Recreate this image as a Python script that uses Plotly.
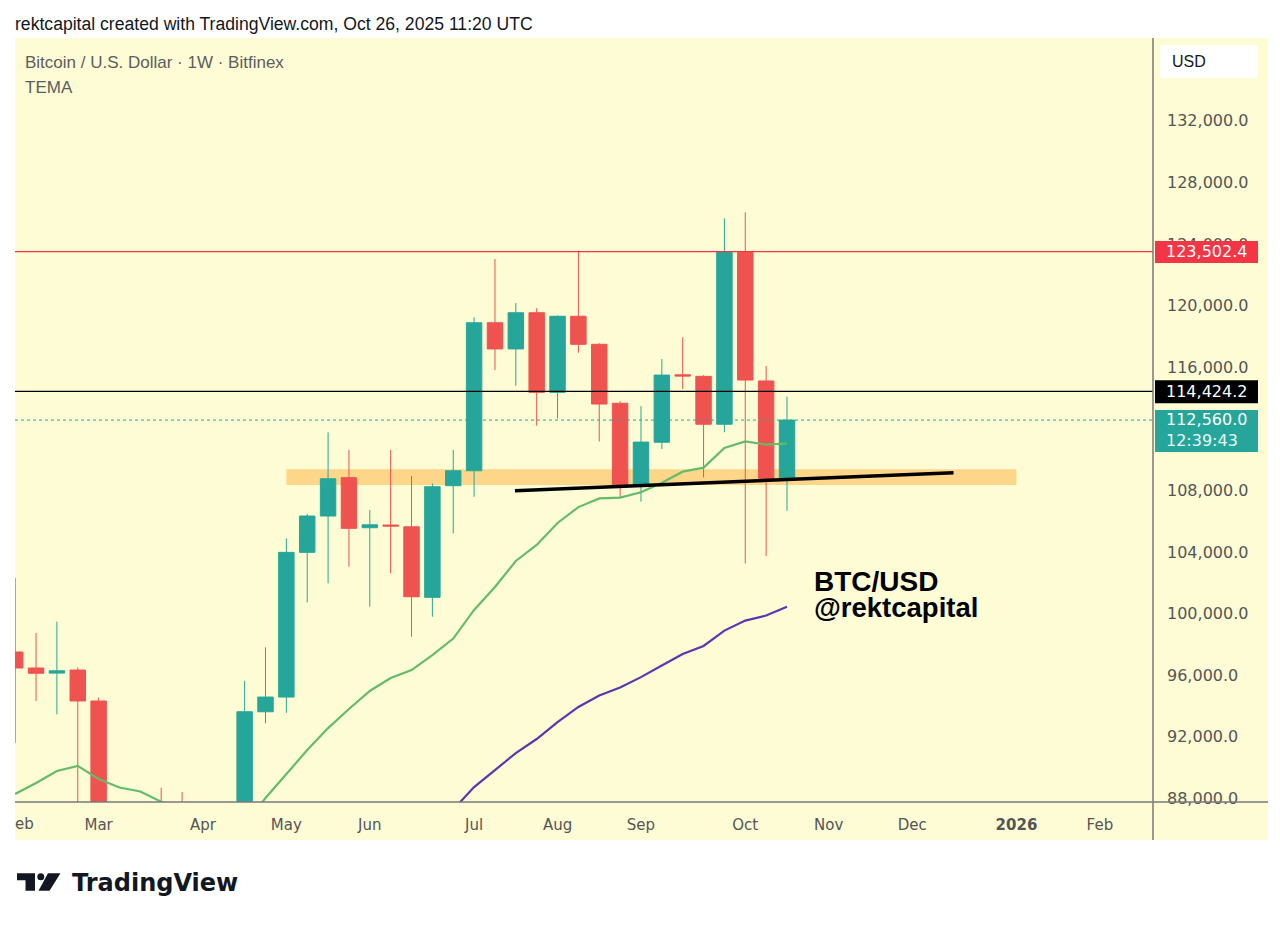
import plotly.graph_objects as go
import pandas as pd

# ---------------- data ----------------
week_start = pd.date_range("2025-02-03", periods=38, freq="7D")

opens = [97500, 96460, 96130, 96330, 94320, 80700, 82600, 86100, 82400, 78400,
         83800, 85100, 93620, 94575, 103970, 106330, 108820, 105570, 105745, 105630,
         101050, 108300, 109270, 118880, 117180, 119530, 114360, 119300, 117480, 113650,
         108300, 111120, 115500, 115400, 112290, 123450, 115100, 108770]
highs = [102300, 98730, 99470, 96500, 94530, 85300, 87450, 88690, 88400, 86100,
         86400, 95630, 97800, 104880, 106460, 111760, 110620, 106720, 110620, 108930,
         108450, 110620, 119230, 123020, 120160, 119820, 119360, 123560, 117550, 113780,
         113460, 116520, 117940, 115480, 125660, 126050, 116070, 114080]
lows = [91600, 94320, 93450, 78200, 80000, 76600, 82000, 81600, 77200, 74500,
        83100, 85000, 92870, 93550, 100720, 101960, 103040, 100440, 102600, 98490,
        99790, 105200, 107580, 115810, 114790, 112190, 112680, 116930, 111160, 107480,
        107260, 110680, 114580, 108840, 111770, 103260, 103730, 106670]
closes = [96460, 96120, 96280, 94320, 80700, 82600, 86100, 82400, 78400, 83800,
          85100, 93620, 94575, 103970, 106330, 108750, 105530, 105760, 105680, 101090,
          108230, 109270, 118880, 117180, 119530, 114360, 119300, 117480, 113600, 108230,
          111130, 115480, 115420, 112290, 123450, 115160, 108770, 112560]

tema_green = [88280, 88990, 89770, 90110, 89250, 88700, 88440, 87780, 87100, 86450,
              86100, 86290, 88020, 89570, 91130, 92560, 93800, 94970, 95810, 96330,
              97300, 98370, 100230, 101720, 103410, 104450, 105880, 106910, 107470, 107520,
              107870, 108490, 109210, 109470, 110750, 111170, 110970, 111040]
tema_purple = [None] * 19 + [85600, 86400, 87270, 88730, 89830, 90940, 91850, 92950,
                             93930, 94670, 95190, 95870, 96620, 97370, 97890, 98890,
                             99540, 99870, 100440]

resistance_level = 123502.4
level_mid = 114424.2
last_price = 112560.0
countdown = "12:39:43"

zone_dates = ["2025-05-05", "2026-01-05"]
zone_prices = [108340, 109360]
trend_dates = ["2025-07-20 17:00", "2025-12-14 21:00"]
trend_prices = [107970, 109140]

month_ticks = ["2025-03-03", "2025-04-07", "2025-05-05", "2025-06-02", "2025-07-07",
               "2025-08-04", "2025-09-01", "2025-10-06", "2025-11-03", "2025-12-01",
               "2026-01-05", "2026-02-02"]
month_labels = ["Mar", "Apr", "May", "Jun", "Jul", "Aug", "Sep", "Oct", "Nov", "Dec",
                "<b>2026</b>", "Feb"]
price_ticks = list(range(88000, 132001, 4000))

# ---------------- style ----------------
W, H = 1280, 926
L, R, T, B = 15, 127, 38, 124
PW, PH = W - L - R, H - T - B
BOTTOM = H - B
BG = "#FDFCD5"
TEAL = "#26A69A"
RED = "#EF5350"
GREEN = "#66BB6A"
PURPLE = "#5E35B1"
AXIS = "#7a7a7a"
TICKC = "#555555"

Y_RANGE = [87760, 137370]
UPP = (Y_RANGE[1] - Y_RANGE[0]) / PH  # price units per pixel

# last-price label box extent (the tick hidden beneath it is not drawn)
box_lo, box_hi = last_price - 32 * UPP, last_price + 10 * UPP
shown_ticks = [v for v in price_ticks if not (box_lo + 6 * UPP < v < box_hi - 6 * UPP)]

anchor = pd.Timestamp("2025-10-20")
PPD = 2.98  # pixels per day
x0 = anchor - pd.Timedelta(days=(787 - L) / PPD)
x1 = anchor + pd.Timedelta(days=(L + PW - 787) / PPD)


def fx(p):
    return (p - L) / PW


def fy(p):
    return (BOTTOM - p) / PH


def rrect(xa, ya, xb, yb, r):
    return (f"M {fx(xa + r)},{fy(ya)} L {fx(xb - r)},{fy(ya)} Q {fx(xb)},{fy(ya)} {fx(xb)},{fy(ya + r)} "
            f"L {fx(xb)},{fy(yb - r)} Q {fx(xb)},{fy(yb)} {fx(xb - r)},{fy(yb)} "
            f"L {fx(xa + r)},{fy(yb)} Q {fx(xa)},{fy(yb)} {fx(xa)},{fy(yb - r)} "
            f"L {fx(xa)},{fy(ya + r)} Q {fx(xa)},{fy(ya)} {fx(xa + r)},{fy(ya)} Z")


fig = go.Figure()

fig.add_trace(go.Scatter(x=week_start, y=tema_green, mode="lines",
                         line=dict(color=GREEN, width=2.2), hoverinfo="skip", showlegend=False))
fig.add_trace(go.Scatter(x=week_start, y=tema_purple, mode="lines",
                         line=dict(color=PURPLE, width=2.2), hoverinfo="skip", showlegend=False))
fig.add_trace(go.Candlestick(
    x=week_start, open=opens, high=highs, low=lows, close=closes,
    increasing=dict(line=dict(color=TEAL, width=1), fillcolor=TEAL),
    decreasing=dict(line=dict(color=RED, width=1), fillcolor=RED),
    whiskerwidth=0, showlegend=False))

shapes = []
# yellow panel
shapes.append(dict(type="rect", xref="paper", yref="paper", x0=fx(15), x1=fx(1268),
                   y0=fy(840), y1=fy(38), fillcolor=BG, line=dict(width=0), layer="below"))
# support zone
shapes.append(dict(type="rect", xref="x", yref="y", x0=zone_dates[0], x1=zone_dates[1],
                   y0=zone_prices[0], y1=zone_prices[1], fillcolor="rgba(255,183,77,0.55)",
                   line=dict(width=0), layer="below"))
# horizontal levels
shapes.append(dict(type="line", xref="paper", yref="y", x0=0, x1=1, y0=resistance_level,
                   y1=resistance_level, line=dict(color="#F23645", width=1.2), layer="above"))
shapes.append(dict(type="line", xref="paper", yref="y", x0=0, x1=1, y0=level_mid,
                   y1=level_mid, line=dict(color="#000000", width=1.2), layer="above"))
shapes.append(dict(type="line", xref="paper", yref="y", x0=0, x1=1, y0=last_price,
                   y1=last_price, line=dict(color=TEAL, width=1, dash="dot"), layer="above"))
# trend line
shapes.append(dict(type="line", xref="x", yref="y", x0=trend_dates[0], x1=trend_dates[1],
                   y0=trend_prices[0], y1=trend_prices[1],
                   line=dict(color="#000000", width=3.5), layer="above"))
# axis lines
shapes.append(dict(type="line", xref="paper", yref="paper", x0=fx(1153), x1=fx(1153),
                   y0=fy(38), y1=fy(840), line=dict(color=AXIS, width=1.5), layer="above"))
shapes.append(dict(type="line", xref="paper", yref="paper", x0=fx(15), x1=fx(1268),
                   y0=fy(802), y1=fy(802), line=dict(color=AXIS, width=1.5), layer="above"))
# price label boxes
shapes.append(dict(type="rect", xref="paper", yref="y", x0=fx(1155), x1=fx(1258),
                   y0=resistance_level - 11.5 * UPP, y1=resistance_level + 10.5 * UPP,
                   fillcolor="#F23645", line=dict(width=0), layer="above"))
shapes.append(dict(type="rect", xref="paper", yref="y", x0=fx(1155), x1=fx(1258),
                   y0=level_mid - 12 * UPP, y1=level_mid + 11 * UPP,
                   fillcolor="#000000", line=dict(width=0), layer="above"))
shapes.append(dict(type="rect", xref="paper", yref="y", x0=fx(1155), x1=fx(1258),
                   y0=box_lo, y1=box_hi, fillcolor=TEAL, line=dict(width=0), layer="above"))
# USD box
shapes.append(dict(type="path", xref="paper", yref="paper", path=rrect(1160, 45, 1258, 78, 4),
                   fillcolor="#FFFFFF", line=dict(width=0), layer="above"))
# TradingView logo
shapes.append(dict(type="path", xref="paper", yref="paper",
                   path=f"M {fx(17)},{fy(873.3)} L {fx(35)},{fy(873.3)} L {fx(35)},{fy(890.7)} "
                        f"L {fx(25.5)},{fy(890.7)} L {fx(25.5)},{fy(880.3)} L {fx(17)},{fy(880.3)} Z",
                   fillcolor="#131722", line=dict(width=0)))
shapes.append(dict(type="circle", xref="paper", yref="paper", x0=fx(37.3), x1=fx(44.3),
                   y0=fy(880.2), y1=fy(873.2), fillcolor="#131722", line=dict(width=0)))
shapes.append(dict(type="path", xref="paper", yref="paper",
                   path=f"M {fx(48)},{fy(873.3)} L {fx(60.5)},{fy(873.3)} L {fx(49.5)},{fy(890.7)} "
                        f"L {fx(38.5)},{fy(890.7)} Z",
                   fillcolor="#131722", line=dict(width=0)))

ann = []
SANS = "Liberation Sans"
DJ = "DejaVu Sans"
ann.append(dict(xref="paper", yref="paper", x=fx(13), y=fy(24), xanchor="left", yanchor="middle",
                text="rektcapital created with TradingView.com, Oct 26, 2025 11:20 UTC",
                showarrow=False, font=dict(family=SANS, size=17.6, color="#131722")))
ann.append(dict(xref="paper", yref="paper", x=fx(23), y=fy(63), xanchor="left", yanchor="middle",
                text="Bitcoin / U.S. Dollar · 1W · Bitfinex",
                showarrow=False, font=dict(family=SANS, size=17, color="#5d5d5d")))
ann.append(dict(xref="paper", yref="paper", x=fx(23), y=fy(87), xanchor="left", yanchor="middle",
                text="TEMA", showarrow=False, font=dict(family=SANS, size=17, color="#5d5d5d")))
ann.append(dict(xref="paper", yref="paper", x=fx(1170), y=fy(61.5), xanchor="left", yanchor="middle",
                text="USD", showarrow=False, font=dict(family=SANS, size=16, color="#131722")))
ann.append(dict(xref="paper", yref="y", x=fx(1164), y=resistance_level, xanchor="left",
                yanchor="middle", text=f"{resistance_level:,.1f}", showarrow=False,
                font=dict(family=DJ, size=16, color="#FFFFFF")))
ann.append(dict(xref="paper", yref="y", x=fx(1164), y=level_mid, xanchor="left",
                yanchor="middle", text=f"{level_mid:,.1f}", showarrow=False,
                font=dict(family=DJ, size=16, color="#FFFFFF")))
ann.append(dict(xref="paper", yref="y", x=fx(1164), y=last_price - 10.4 * UPP, xanchor="left",
                yanchor="middle", align="left",
                text=f"{last_price:,.1f}<br><span style='color:#E6F5F3'>{countdown}</span>",
                showarrow=False, font=dict(family=DJ, size=16, color="#FFFFFF")))
ann.append(dict(xref="paper", yref="paper", x=fx(812), y=fy(581), xanchor="left", yanchor="middle",
                text="<b>BTC/USD</b>", showarrow=False, font=dict(family=SANS, size=28, color="#000000")))
ann.append(dict(xref="paper", yref="paper", x=fx(812), y=fy(607.5), xanchor="left", yanchor="middle",
                text="<b>@rektcapital</b>", showarrow=False, font=dict(family=SANS, size=27.5, color="#000000")))
ann.append(dict(xref="paper", yref="paper", x=fx(13), y=fy(824), xanchor="left", yanchor="middle",
                text="eb", showarrow=False, font=dict(family=DJ, size=15, color=TICKC)))
ann.append(dict(xref="paper", yref="paper", x=fx(70), y=fy(882.5), xanchor="left", yanchor="middle",
                text="<b>TradingView</b>", showarrow=False, font=dict(family=DJ, size=24, color="#131722")))

fig.update_layout(
    width=W, height=H, margin=dict(l=L, r=R, t=T, b=B, autoexpand=False),
    paper_bgcolor="#FFFFFF", plot_bgcolor=BG, showlegend=False,
    shapes=shapes, annotations=ann, hovermode=False,
    boxgap=0.26, boxgroupgap=0,
    xaxis=dict(type="date", range=[x0, x1], tickvals=month_ticks, ticktext=month_labels,
               showgrid=False, zeroline=False, showline=False, ticks="",
               tickfont=dict(family=DJ, size=15, color=TICKC), ticklabelstandoff=12,
               rangeslider=dict(visible=False), automargin=False, fixedrange=True),
    yaxis=dict(side="right", range=Y_RANGE, tickvals=shown_ticks, tickformat=",.1f",
               showgrid=False, zeroline=False, showline=False, ticks="",
               tickfont=dict(family=DJ, size=16, color=TICKC), ticklabelstandoff=13,
               automargin=False, fixedrange=True),
)

fig.write_html("out.html")
